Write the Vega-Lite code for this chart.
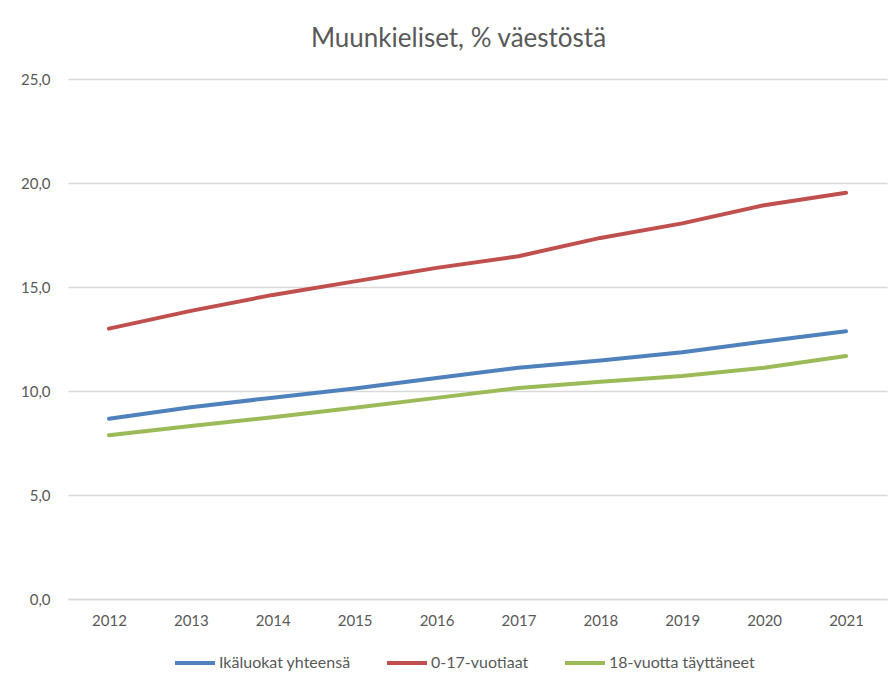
{
  "$schema": "https://vega.github.io/schema/vega-lite/v6.json",
  "width": 819,
  "height": 520,
  "autosize": {"type": "none"},
  "padding": {"left": 68, "top": 79, "right": 8, "bottom": 87},
  "background": "white",
  "title": {"text": "Muunkieliset, % väestöstä", "anchor": "middle", "offset": 20, "dx": -19, "fontSize": 26, "font": "Lato", "fontWeight": "normal", "color": "#595959"},
  "data": {"values": [
    {"year": "2012", "series": "Ikäluokat yhteensä", "value": 8.67},
    {"year": "2013", "series": "Ikäluokat yhteensä", "value": 9.22},
    {"year": "2014", "series": "Ikäluokat yhteensä", "value": 9.68},
    {"year": "2015", "series": "Ikäluokat yhteensä", "value": 10.12},
    {"year": "2016", "series": "Ikäluokat yhteensä", "value": 10.62},
    {"year": "2017", "series": "Ikäluokat yhteensä", "value": 11.12},
    {"year": "2018", "series": "Ikäluokat yhteensä", "value": 11.47},
    {"year": "2019", "series": "Ikäluokat yhteensä", "value": 11.86},
    {"year": "2020", "series": "Ikäluokat yhteensä", "value": 12.38},
    {"year": "2021", "series": "Ikäluokat yhteensä", "value": 12.87},
    {"year": "2012", "series": "0-17-vuotiaat", "value": 13.0},
    {"year": "2013", "series": "0-17-vuotiaat", "value": 13.85},
    {"year": "2014", "series": "0-17-vuotiaat", "value": 14.62},
    {"year": "2015", "series": "0-17-vuotiaat", "value": 15.27},
    {"year": "2016", "series": "0-17-vuotiaat", "value": 15.92},
    {"year": "2017", "series": "0-17-vuotiaat", "value": 16.48},
    {"year": "2018", "series": "0-17-vuotiaat", "value": 17.36},
    {"year": "2019", "series": "0-17-vuotiaat", "value": 18.06},
    {"year": "2020", "series": "0-17-vuotiaat", "value": 18.93},
    {"year": "2021", "series": "0-17-vuotiaat", "value": 19.53},
    {"year": "2012", "series": "18-vuotta täyttäneet", "value": 7.87},
    {"year": "2013", "series": "18-vuotta täyttäneet", "value": 8.32},
    {"year": "2014", "series": "18-vuotta täyttäneet", "value": 8.74},
    {"year": "2015", "series": "18-vuotta täyttäneet", "value": 9.2},
    {"year": "2016", "series": "18-vuotta täyttäneet", "value": 9.67},
    {"year": "2017", "series": "18-vuotta täyttäneet", "value": 10.14},
    {"year": "2018", "series": "18-vuotta täyttäneet", "value": 10.44},
    {"year": "2019", "series": "18-vuotta täyttäneet", "value": 10.72},
    {"year": "2020", "series": "18-vuotta täyttäneet", "value": 11.12},
    {"year": "2021", "series": "18-vuotta täyttäneet", "value": 11.68}
  ]},
  "mark": {"type": "line", "strokeWidth": 4, "strokeCap": "round", "strokeJoin": "round"},
  "encoding": {
    "x": {
      "field": "year", "type": "ordinal", "title": null,
      "scale": {"type": "point", "padding": 0.5},
      "axis": {"labelAngle": 0, "ticks": false, "domain": true, "domainColor": "#d9d9d9", "domainWidth": 1.5, "labelPadding": 14, "labelFontSize": 15, "labelFont": "Lato", "labelColor": "#595959", "grid": false}
    },
    "y": {
      "field": "value", "type": "quantitative", "title": null,
      "scale": {"domain": [0, 25], "nice": false, "zero": true},
      "axis": {"values": [0, 5, 10, 15, 20, 25], "labelExpr": "replace(format(datum.value, '.1f'), '.', ',')", "ticks": false, "domain": false, "grid": true, "gridColor": "#d9d9d9", "gridWidth": 1.5, "labelPadding": 18, "labelFontSize": 15, "labelFont": "Lato", "labelColor": "#595959"}
    },
    "color": {
      "field": "series", "type": "nominal",
      "scale": {"domain": ["Ikäluokat yhteensä", "0-17-vuotiaat", "18-vuotta täyttäneet"], "range": ["#4F81BD", "#C0504D", "#9BBB59"]},
      "legend": {"title": null, "orient": "none", "legendX": 105, "legendY": 562, "direction": "horizontal", "symbolType": "stroke", "symbolStrokeWidth": 4, "symbolSize": 1600, "labelFontSize": 16, "labelFont": "Lato", "labelColor": "#595959", "labelOffset": 2, "columnPadding": 28}
    }
  },
  "config": {"view": {"stroke": null}}
}
